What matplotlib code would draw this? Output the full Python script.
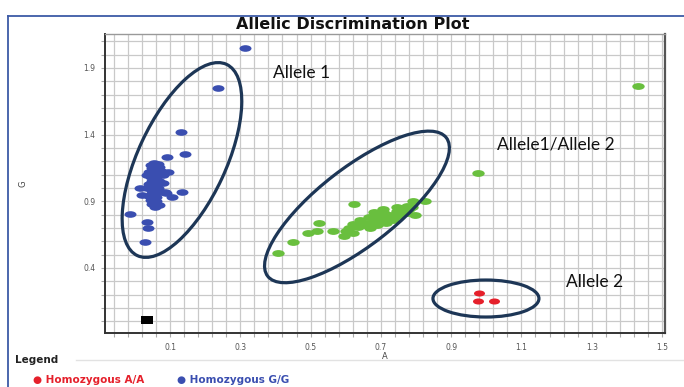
import matplotlib
matplotlib.use("Agg")
import matplotlib.pyplot as plt
import numpy as np
from matplotlib.patches import Ellipse
from matplotlib.path import Path
from matplotlib.transforms import Affine2D, ScaledTranslation
from matplotlib.lines import Line2D


# allele A signal (x) / allele G signal (y) per sample
HOMO_GG_X = [0.313, 0.236, 0.131, 0.144, 0.092, 0.135, 0.105, -0.014, 0.034, 0.038,
             0.029, 0.057, 0.055, 0.065, 0.045, 0.070, 0.050, 0.060, 0.075, 0.040,
             0.055, 0.065, 0.080, 0.045, 0.060, 0.050, 0.070, 0.040, 0.055, 0.065,
             0.045, 0.060, 0.075, 0.050, 0.040, 0.060, 0.085, 0.090, 0.045, 0.060,
             0.050, 0.070, 0.035, 0.035, 0.095, 0.080, 0.015, 0.020]
HOMO_GG_Y = [2.048, 1.752, 1.423, 1.253, 1.231, 0.970, 0.935, 0.803, 0.747, 0.700,
             0.593, 0.860, 1.190, 1.180, 1.170, 1.160, 1.150, 1.140, 1.130, 1.120,
             1.110, 1.100, 1.100, 1.080, 1.070, 1.050, 1.050, 1.030, 1.020, 1.000,
             0.990, 0.980, 0.970, 0.960, 0.940, 0.930, 0.970, 0.960, 0.910, 0.900,
             0.880, 0.870, 1.000, 1.100, 1.120, 1.040, 1.000, 0.950]

HETERO_AG_X = [0.408, 0.451, 0.494, 0.519, 0.525, 0.565, 0.595, 0.624, 0.792, 0.826,
               0.797, 0.745, 0.773, 0.975, 1.432, 0.610, 0.620, 0.635, 0.640, 0.650,
               0.660, 0.665, 0.670, 0.680, 0.690, 0.695, 0.700, 0.710, 0.715, 0.720,
               0.730, 0.735, 0.745, 0.750, 0.760, 0.765, 0.775, 0.780, 0.790, 0.620,
               0.600, 0.680, 0.705]
HETERO_AG_Y = [0.515, 0.593, 0.660, 0.677, 0.735, 0.680, 0.640, 0.880, 0.905, 0.905,
               0.800, 0.860, 0.867, 1.115, 1.768, 0.700, 0.730, 0.710, 0.760, 0.720,
               0.740, 0.780, 0.700, 0.750, 0.720, 0.790, 0.760, 0.810, 0.740, 0.780,
               0.800, 0.760, 0.830, 0.790, 0.820, 0.850, 0.810, 0.840, 0.860, 0.660,
               0.680, 0.820, 0.840]

HOMO_AA_X = [0.978, 0.976, 1.021]
HOMO_AA_Y = [0.215, 0.155, 0.152]

UNDETERMINED_X = [0.035]
UNDETERMINED_Y = [0.010]

X_TICKS = [0.1, 0.3, 0.5, 0.7, 0.9, 1.1, 1.3, 1.5]
Y_TICKS = [0.4, 0.9, 1.4, 1.9]

# hand-drawn cluster rings: centre (data), full width / height (px), angle (deg)
RINGS = [
    ((0.134, 1.210), 211, 88, 65.0),
    ((0.632, 0.858), 226, 78, 37.8),
    ((0.999, 0.171), 106, 37, 0.0),
]
LABELS = [
    (0.393, 1.863, "Allele 1"),
    (1.031, 1.323, "Allele1/Allele 2"),
    (1.227, 0.295, "Allele 2"),
]

BLUE = "#3a4eb0"
GREEN = "#69bf3e"
RED = "#e5202b"
NAVY = "#1d3656"
FRAME = "#3d5ba6"

oval = Path.unit_circle().transformed(Affine2D().scale(1.0, 0.55))
block = Path([(-1, -0.62), (1, -0.62), (1, 0.62), (-1, 0.62), (-1, -0.62)],
             closed=True)

fig = plt.figure(figsize=(6.84, 3.87), dpi=100)
ax = fig.add_axes([105 / 684, 1 - 333 / 387, 560 / 684, 299 / 387])

ax.set_xlim(-0.085, 1.5085)
ax.set_ylim(-0.0876, 2.155)

ax.set_xticks(X_TICKS)
ax.set_xticks(np.arange(-0.06, 1.51, 0.04), minor=True)
ax.set_yticks(Y_TICKS)
ax.set_yticks(np.arange(0.0, 2.15, 0.1), minor=True)
ax.set_xticklabels([f"{v:.1f}" for v in X_TICKS])
ax.set_yticklabels([f"{v:.1f}" for v in Y_TICKS])
ax.grid(True, which="both", color="#c9c9c9", linewidth=0.9, zorder=0)
ax.set_axisbelow(True)
ax.tick_params(which="both", length=3, width=0.8, color="#aaaaaa",
               labelsize=5.5, labelcolor="#555555", pad=4)

for side in ("left", "bottom"):
    ax.spines[side].set_color("#333333")
    ax.spines[side].set_linewidth(1.4)
ax.spines["right"].set_color("#555555")
ax.spines["right"].set_linewidth(1.6)
ax.spines["top"].set_color("#999999")
ax.spines["top"].set_linewidth(1.0)

ax.scatter(HOMO_GG_X, HOMO_GG_Y, s=75, marker=oval, color=BLUE, linewidths=0, zorder=3)
ax.scatter(HETERO_AG_X, HETERO_AG_Y, s=80, marker=oval, color=GREEN, linewidths=0, zorder=3)
ax.scatter(HOMO_AA_X, HOMO_AA_Y, s=63, marker=oval, color=RED, linewidths=0, zorder=3)
ax.scatter(UNDETERMINED_X, UNDETERMINED_Y, s=80, marker=block, color="black",
           linewidths=0, zorder=3)

for (cx, cy), w, h, ang in RINGS:
    tr = fig.dpi_scale_trans + ScaledTranslation(cx, cy, ax.transData)
    ax.add_patch(Ellipse((0, 0), w / 100, h / 100, angle=ang, transform=tr,
                         fill=False, edgecolor=NAVY, linewidth=2.3, zorder=4))

for x, y, text in LABELS:
    ax.text(x, y, text, fontsize=12.5, family="Lato", va="center", ha="left",
            color="#111111", zorder=5)

ax.set_xlabel("A", fontsize=6, color="#444444", labelpad=0)
ax.set_ylabel("G", fontsize=6, color="#444444", labelpad=40)

fig.text(353 / 684, 1 - 17 / 387, "Allelic Discrimination Plot", ha="center",
         va="top", fontsize=11.5, fontweight="heavy", color="#111111")

# window frame and legend strip
fig.add_artist(Line2D([8 / 684, 1], [1 - 16 / 387] * 2, color=FRAME, linewidth=1.3))
fig.add_artist(Line2D([8 / 684] * 2, [0, 1 - 16 / 387], color=FRAME, linewidth=1.3))
fig.add_artist(Line2D([76 / 684, 1], [1 - 360 / 387] * 2, color="#e2e2e2", linewidth=1.0))
fig.text(15 / 684, 1 - 360 / 387, "Legend", fontsize=7.5, fontweight="bold",
         color="#222222", va="center", ha="left")

legend_rows = [
    (33, 380, RED, "Homozygous A/A"),
    (177, 380, BLUE, "Homozygous G/G"),
    (33, 392, GREEN, "Heterozygous A/G"),
    (183, 392, "black", "Undetermined"),
]
for px, py, col, name in legend_rows:
    fig.text(px / 684, 1 - py / 387, "\u25cf " + name, fontsize=7.5,
             fontweight="bold", color=col, va="center", ha="left")

fig.savefig("out.png", dpi=100)
